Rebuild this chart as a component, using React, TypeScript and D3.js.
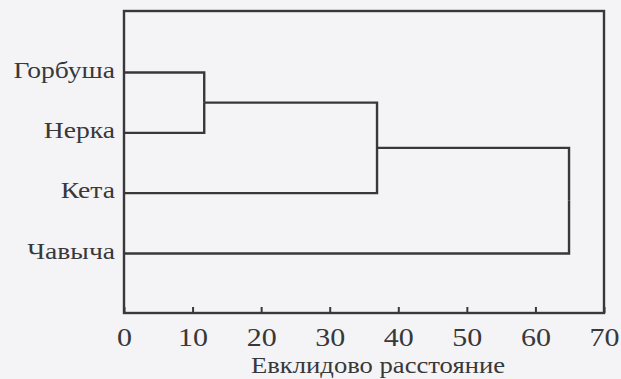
import { useEffect, useRef } from 'react';
import * as d3 from 'd3';

// leaves in top-to-bottom order
const species = ['Горбуша', 'Нерка', 'Кета', 'Чавыча'];
// agglomeration steps: left/right member and linkage distance
const mergeLeft = ['Горбуша', 'c1', 'c2'];
const mergeRight = ['Нерка', 'Кета', 'Чавыча'];
const mergeHeight = [11.7, 36.9, 64.9];
const xTicks = [0, 10, 20, 30, 40, 50, 60, 70];
const xTitle = 'Евклидово расстояние';

type Node = { name: string; height: number; children?: Node[] };

const buildTree = (): Node => {
  const nodes: Record<string, Node> = {};
  species.forEach(s => (nodes[s] = { name: s, height: 0 }));
  let last = '';
  mergeLeft.forEach((l, i) => {
    const id = 'c' + (i + 1);
    nodes[id] = { name: id, height: mergeHeight[i], children: [nodes[l], nodes[mergeRight[i]]] };
    last = id;
  });
  return nodes[last];
};

const W = 621;
const H = 379;
const frame = { left: 124, right: 604, top: 11, bottom: 313 };
const stretch = 1.2; // the scanned type is wider than it is tall

const Dendrogram = () => {
  const svgRef = useRef<SVGSVGElement>(null);

  useEffect(() => {
    document.body.style.margin = '0';
    document.body.style.overflow = 'hidden';
    const svg = d3.select(svgRef.current);
    svg.selectAll('*').remove();
    const ink = '#38383a';
    const font = '"Liberation Serif", "DejaVu Serif", serif';

    svg.append('rect').attr('width', W).attr('height', H).attr('fill', '#f4f4f6');

    const x = d3.scaleLinear().domain([0, 70]).range([frame.left, frame.right]);
    const y = d3.scalePoint<string>().domain(species).range([72.5, 253.5]);

    const root = d3.hierarchy<Node>(buildTree());
    // y of a cluster = middle of its children's y
    const ypos = new Map<d3.HierarchyNode<Node>, number>();
    root.eachAfter(n => {
      if (!n.children) ypos.set(n, y(n.data.name) as number);
      else ypos.set(n, d3.mean(n.children, c => ypos.get(c)) as number);
    });

    svg.append('g')
      .selectAll('path')
      .data(root.links())
      .join('path')
      .attr('d', l => `M${x(l.target.data.height)},${ypos.get(l.target)}H${x(l.source.data.height)}V${ypos.get(l.source)}`)
      .attr('fill', 'none')
      .attr('stroke', ink)
      .attr('stroke-width', 2.4);

    // frame
    svg.append('rect')
      .attr('x', frame.left)
      .attr('y', frame.top)
      .attr('width', frame.right - frame.left)
      .attr('height', frame.bottom - frame.top)
      .attr('fill', 'none')
      .attr('stroke', ink)
      .attr('stroke-width', 2.4);

    const axis = svg.append('g')
      .attr('transform', `translate(0,${frame.bottom})`)
      .call(d3.axisBottom(x).tickValues(xTicks).tickSize(-6).tickSizeOuter(0));
    axis.select('.domain').remove();
    axis.selectAll('line').attr('stroke', ink).attr('stroke-width', 2);
    axis.selectAll('text')
      .attr('y', 0)
      .attr('dy', 0)
      .attr('transform', `translate(0,33) scale(${stretch},1)`)
      .attr('fill', ink)
      .style('font-family', font)
      .style('font-size', '25px');

    svg.append('g')
      .selectAll('text')
      .data(species)
      .join('text')
      .attr('transform', d => `translate(115,${(y(d) as number) + 5}) scale(${stretch},1)`)
      .attr('text-anchor', 'end')
      .attr('fill', ink)
      .style('font-family', font)
      .style('font-size', '23px')
      .text(d => d);

    svg.append('text')
      .attr('transform', 'translate(378,373) scale(1.11,1)')
      .attr('text-anchor', 'middle')
      .attr('fill', ink)
      .style('font-family', font)
      .style('font-size', '24px')
      .text(xTitle);
  }, []);

  return <svg ref={svgRef} width={W} height={H} style={{ display: 'block' }}></svg>;
};

export default function App() {
  return <Dendrogram />;
}
